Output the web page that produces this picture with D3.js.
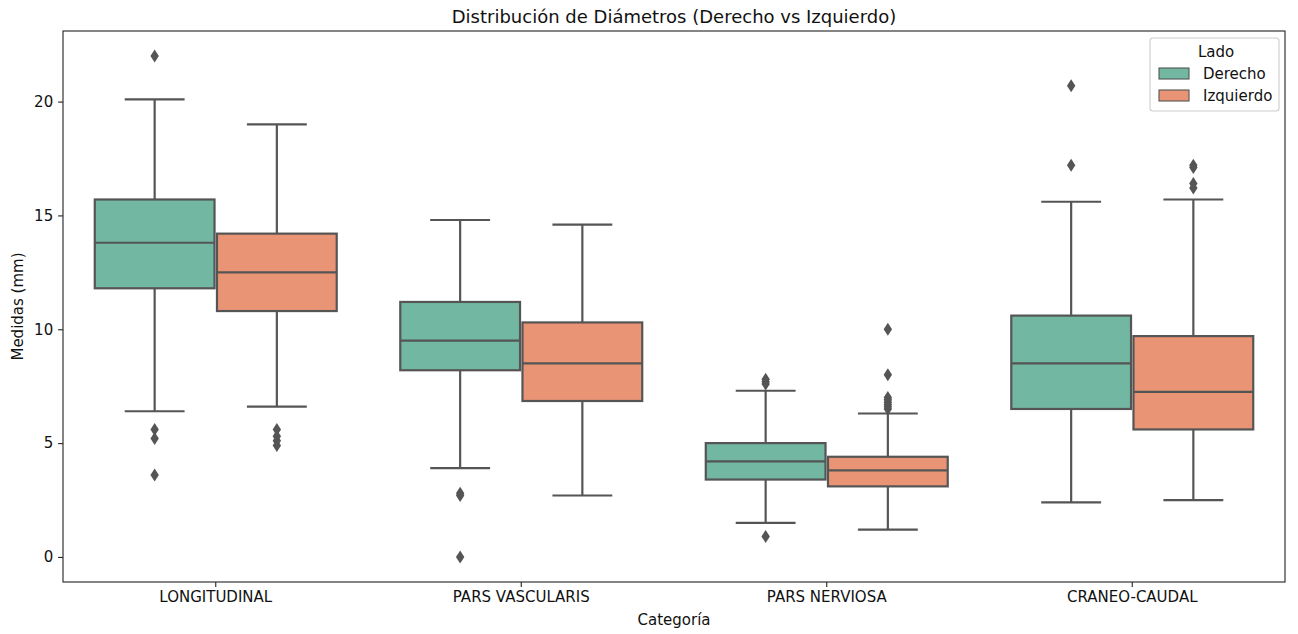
<!DOCTYPE html>
<html>
<head>
<meta charset="utf-8">
<script src="https://cdn.jsdelivr.net/npm/d3@7"></script>
<style>
  body { margin: 0; background: #fff; }
  svg text { font-family: "DejaVu Sans", sans-serif; fill: #111; }
</style>
</head>
<body>
<div id="chart"></div>
<script>
'use strict';

// categories and series
var categories = ['LONGITUDINAL', 'PARS VASCULARIS', 'PARS NERVIOSA', 'CRANEO-CAUDAL'];
var sides = ['Derecho', 'Izquierdo'];
var yTicks = [0, 5, 10, 15, 20];

// box stats: [whiskerLow, q1, median, q3, whiskerHigh]
var derechoStats = [
  [6.4, 11.8, 13.8, 15.7, 20.1],
  [3.9, 8.2, 9.5, 11.2, 14.8],
  [1.5, 3.4, 4.2, 5.0, 7.3],
  [2.4, 6.5, 8.5, 10.6, 15.6]
];
var izquierdoStats = [
  [6.6, 10.8, 12.5, 14.2, 19.0],
  [2.7, 6.85, 8.5, 10.3, 14.6],
  [1.2, 3.1, 3.8, 4.4, 6.3],
  [2.5, 5.6, 7.25, 9.7, 15.7]
];

// fliers
var derechoOutliers = [
  [22.0, 5.6, 5.2, 3.6],
  [2.8, 2.7, 0.0],
  [7.8, 7.7, 7.6, 0.9],
  [20.7, 17.2]
];
var izquierdoOutliers = [
  [5.6, 5.3, 5.1, 4.9],
  [],
  [10.0, 8.0, 7.0, 6.9, 6.8, 6.7, 6.6, 6.5],
  [17.2, 17.1, 16.4, 16.2]
];

var colors = ['#71b7a1', '#e99575'];
var lineColor = '#555555';

var width = 1298, height = 634;
var margin = { left: 63, right: 13, top: 31, bottom: 52 };
var fs = 15;

var svg = d3.select('#chart').append('svg')
  .attr('width', width)
  .attr('height', height);

var x = d3.scaleBand()
  .domain(categories)
  .range([margin.left, width - margin.right])
  .padding(0);

var hue = d3.scaleBand()
  .domain(sides)
  .range([x.bandwidth() * 0.1, x.bandwidth() * 0.9])
  .padding(0);

var y = d3.scaleLinear()
  .domain([-1.1, 23.1])
  .range([height - margin.bottom, margin.top]);

var series = [
  { name: 'Derecho', stats: derechoStats, fliers: derechoOutliers, color: colors[0] },
  { name: 'Izquierdo', stats: izquierdoStats, fliers: izquierdoOutliers, color: colors[1] }
];

var boxW = hue.bandwidth() * 0.98;
var lw = 2.2;

series.forEach(function(s) {
  var g = svg.append('g');

  categories.forEach(function(cat, i) {
    var st = s.stats[i];
    var cx = x(cat) + hue(s.name) + hue.bandwidth() / 2;

    // whiskers
    g.append('line')
      .attr('x1', cx).attr('x2', cx)
      .attr('y1', y(st[0])).attr('y2', y(st[1]))
      .attr('stroke', lineColor).attr('stroke-width', lw);
    g.append('line')
      .attr('x1', cx).attr('x2', cx)
      .attr('y1', y(st[3])).attr('y2', y(st[4]))
      .attr('stroke', lineColor).attr('stroke-width', lw);

    // caps
    [st[0], st[4]].forEach(function(v) {
      g.append('line')
        .attr('x1', cx - boxW / 4).attr('x2', cx + boxW / 4)
        .attr('y1', y(v)).attr('y2', y(v))
        .attr('stroke', lineColor).attr('stroke-width', lw);
    });

    // box
    g.append('rect')
      .attr('x', cx - boxW / 2)
      .attr('y', y(st[3]))
      .attr('width', boxW)
      .attr('height', y(st[1]) - y(st[3]))
      .attr('fill', s.color)
      .attr('stroke', lineColor)
      .attr('stroke-width', lw);

    // median
    g.append('line')
      .attr('x1', cx - boxW / 2).attr('x2', cx + boxW / 2)
      .attr('y1', y(st[2])).attr('y2', y(st[2]))
      .attr('stroke', lineColor).attr('stroke-width', lw);

    // fliers as diamonds
    g.selectAll(null)
      .data(s.fliers[i])
      .enter().append('path')
      .attr('d', function(d) {
        var py = y(d);
        return 'M' + cx + ',' + (py - 6.5) + 'L' + (cx + 4.2) + ',' + py +
               'L' + cx + ',' + (py + 6.5) + 'L' + (cx - 4.2) + ',' + py + 'Z';
      })
      .attr('fill', lineColor);
  });
});

// axes frame
var x0 = margin.left, x1 = width - margin.right;
var y0 = margin.top, y1 = height - margin.bottom;

svg.append('rect')
  .attr('x', x0).attr('y', y0)
  .attr('width', x1 - x0).attr('height', y1 - y0)
  .attr('fill', 'none')
  .attr('stroke', '#222')
  .attr('stroke-width', 1.1);

// y axis
var yAxis = d3.axisLeft(y)
  .tickValues(yTicks)
  .tickSize(4.9)
  .tickPadding(4.9);

var ya = svg.append('g')
  .attr('transform', 'translate(' + x0 + ',0)')
  .call(yAxis);
ya.select('.domain').remove();
ya.selectAll('line').attr('stroke', '#222').attr('stroke-width', 1.1);
ya.selectAll('text').attr('font-size', fs).attr('font-family', 'DejaVu Sans');

// x axis
var xAxis = d3.axisBottom(x)
  .tickSize(4.9)
  .tickPadding(4.9);

var xa = svg.append('g')
  .attr('transform', 'translate(0,' + y1 + ')')
  .call(xAxis);
xa.select('.domain').remove();
xa.selectAll('line').attr('stroke', '#222').attr('stroke-width', 1.1);
xa.selectAll('text').attr('font-size', fs).attr('font-family', 'DejaVu Sans');

// titles
svg.append('text')
  .attr('x', (x0 + x1) / 2)
  .attr('y', 23)
  .attr('text-anchor', 'middle')
  .attr('font-size', 18)
  .text('Distribución de Diámetros (Derecho vs Izquierdo)');

svg.append('text')
  .attr('x', (x0 + x1) / 2)
  .attr('y', 625)
  .attr('text-anchor', 'middle')
  .attr('font-size', fs)
  .text('Categoría');

svg.append('text')
  .attr('transform', 'translate(23,' + ((y0 + y1) / 2) + ') rotate(-90)')
  .attr('text-anchor', 'middle')
  .attr('font-size', fs)
  .text('Medidas (mm)');

// legend
var lg = svg.append('g').attr('transform', 'translate(1150,38)');

lg.append('rect')
  .attr('width', 129).attr('height', 73)
  .attr('rx', 3)
  .attr('fill', '#fff')
  .attr('fill-opacity', 0.8)
  .attr('stroke', '#ccc')
  .attr('stroke-width', 1.1);

lg.append('text')
  .attr('x', 66).attr('y', 19)
  .attr('text-anchor', 'middle')
  .attr('font-size', fs)
  .text('Lado');

var items = lg.selectAll('g.item')
  .data(sides)
  .enter().append('g')
  .attr('class', 'item')
  .attr('transform', function(d, i) { return 'translate(9,' + (29 + i * 22) + ')'; });

items.append('rect')
  .attr('width', 30).attr('height', 11)
  .attr('y', 1)
  .attr('fill', function(d, i) { return colors[i]; })
  .attr('stroke', lineColor)
  .attr('stroke-width', 1.1);

items.append('text')
  .attr('x', 44).attr('y', 12)
  .attr('font-size', fs)
  .text(function(d) { return d; });
</script>
</body>
</html>
